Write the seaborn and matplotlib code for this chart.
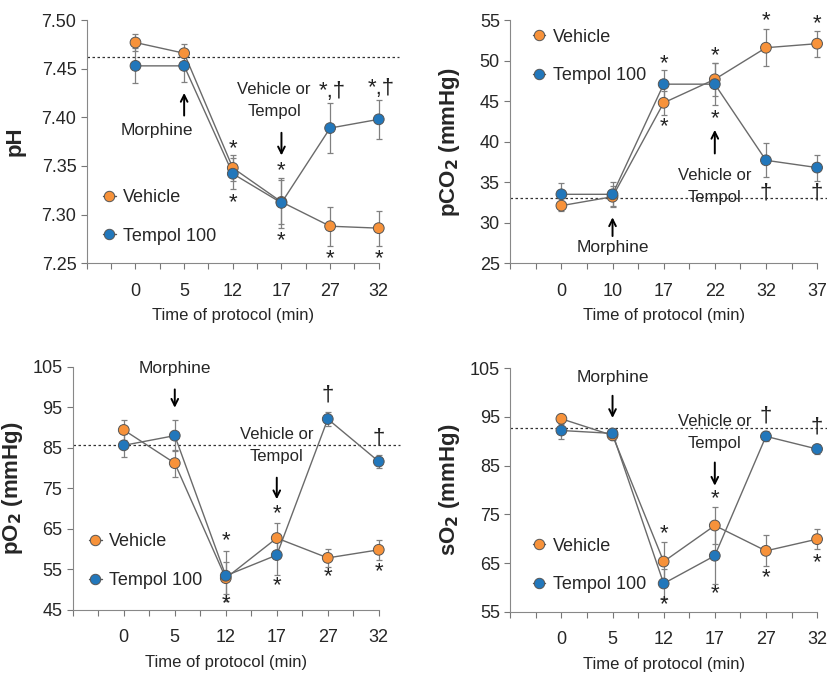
import matplotlib.pyplot as plt
import numpy as np
import pandas as pd
import seaborn as sns
from matplotlib.lines import Line2D

sns.set_style('white')
plt.rcParams['font.family'] = ['Liberation Sans Narrow', 'Liberation Sans', 'DejaVu Sans']

groups = ['Vehicle', 'Tempol 100']
colors = {'Vehicle': '#F7923A', 'Tempol 100': '#2277BB'}

# pH
ph_times = ['0', '5', '12', '17', '27', '32']
ph_vehicle = [7.477, 7.466, 7.348, 7.313, 7.288, 7.286]
ph_vehicle_err = [0.009, 0.010, 0.013, 0.023, 0.020, 0.018]
ph_tempol = [7.453, 7.453, 7.342, 7.312, 7.389, 7.398]
ph_tempol_err = [0.018, 0.017, 0.016, 0.026, 0.026, 0.020]
ph_baseline = 7.462

# pCO2
pco2_times = ['0', '10', '17', '22', '32', '37']
pco2_vehicle = [32.1, 33.2, 44.8, 47.7, 51.6, 52.1]
pco2_vehicle_err = [0.6, 1.3, 1.5, 2.0, 2.3, 1.6]
pco2_tempol = [33.5, 33.5, 47.1, 47.1, 37.7, 36.8]
pco2_tempol_err = [1.4, 1.5, 1.8, 2.6, 2.1, 1.6]
pco2_baseline = 33.1

# pO2
po2_times = ['0', '5', '12', '17', '27', '32']
po2_vehicle = [89.4, 81.2, 52.8, 62.7, 57.8, 59.8]
po2_vehicle_err = [2.5, 3.3, 3.9, 3.7, 2.3, 2.5]
po2_tempol = [85.6, 88.0, 53.4, 58.5, 92.1, 81.6]
po2_tempol_err = [2.8, 3.9, 6.2, 4.8, 1.8, 1.5]
po2_baseline = 85.6

# sO2
so2_times = ['0', '5', '12', '17', '27', '32']
so2_vehicle = [94.6, 91.2, 65.3, 72.7, 67.5, 69.9]
so2_vehicle_err = [1.0, 1.0, 4.1, 3.8, 3.2, 2.1]
so2_tempol = [92.2, 91.6, 60.8, 66.5, 91.0, 88.4]
so2_tempol_err = [1.8, 1.0, 3.0, 5.9, 1.0, 1.0]
so2_baseline = 92.7


def panel(ax, times, veh, veh_err, tem, tem_err, baseline, ylim, yticks, ylabel, leg_anchor, label_x):
    pos = np.arange(1, len(times) + 1)
    df = pd.DataFrame({'pos': np.tile(pos, 2),
                       'value': veh + tem,
                       'err': veh_err + tem_err,
                       'group': np.repeat(groups, len(times))})
    ax.axhline(baseline, xmin=0, xmax=1.07, color='#333333', ls=(0, (2, 2)), lw=0.9,
               clip_on=False, zorder=1)
    for g, d in df.groupby('group'):
        ax.errorbar(d['pos'], d['value'], yerr=d['err'], fmt='none', ecolor='#808080',
                    elinewidth=0.9, capsize=2, capthick=0.9, zorder=2, clip_on=False)
    sns.lineplot(data=df, x='pos', y='value', units='group', estimator=None, color='#6a6a6a',
                 lw=1, ax=ax, zorder=3)
    sns.scatterplot(data=df, x='pos', y='value', hue='group', palette=colors, s=60,
                    edgecolor='#555555', linewidth=0.7, ax=ax, zorder=4, legend=False, clip_on=False)

    ax.set_xlim(0, len(times))
    ax.set_ylim(*ylim)
    ax.set_yticks(yticks)
    ax.set_xticks(pos)
    ax.set_xticklabels(times)
    ax.set_xticks(np.arange(0, len(times) + 0.1, 0.5), minor=True)
    ax.tick_params(axis='both', which='both', direction='out', length=4, width=0.8,
                   color='#777777', labelsize=13, left=True, bottom=True)
    ax.tick_params(axis='x', pad=10)
    for s in ['top', 'right']:
        ax.spines[s].set_visible(False)
    for s in ['left', 'bottom']:
        ax.spines[s].set_color('#888888')
    ax.set_xlabel('Time of protocol (min)', fontsize=12, labelpad=6)
    ax.set_ylabel(ylabel, fontsize=16, fontweight='bold', family=['Liberation Sans', 'DejaVu Sans'])
    ax.yaxis.set_label_coords(label_x, 0.5)

    handles = [Line2D([0], [0], color='#555555', lw=1, marker='o', markersize=7.5,
                      markerfacecolor=colors[g], markeredgecolor='#555555', markeredgewidth=0.7)
               for g in groups]
    ax.legend(handles, groups, loc='center left', bbox_to_anchor=leg_anchor, frameon=False,
              fontsize=13, handlelength=0.7, handletextpad=0.4, labelspacing=1.2)


def arrow(ax, x, y_tail, y_head):
    ax.annotate('', xy=(x, y_head), xytext=(x, y_tail),
                arrowprops=dict(arrowstyle='->', lw=1.4, color='black', mutation_scale=12))


def marks(ax, items, size=16):
    for x, y, t in items:
        ax.text(x, y, t, ha='center', va='center', fontsize=size, color='#222222')


fig, axes = plt.subplots(2, 2, figsize=(8.27, 6.73), dpi=100)
ax1, ax2, ax3, ax4 = axes.ravel()
ax1.set_position([0.105, 0.609, 0.353, 0.361])
ax2.set_position([0.617, 0.609, 0.371, 0.361])
ax3.set_position([0.088, 0.094, 0.370, 0.361])
ax4.set_position([0.617, 0.091, 0.371, 0.362])

panel(ax1, ph_times, ph_vehicle, ph_vehicle_err, ph_tempol, ph_tempol_err, ph_baseline,
      (7.25, 7.50), np.arange(7.25, 7.51, 0.05), 'pH', (0.0, 0.19), -0.21)
ax1.set_yticklabels(['%.2f' % v for v in np.arange(7.25, 7.51, 0.05)])
ax1.text(1.44, 7.387, 'Morphine', ha='center', va='center', fontsize=12.5)
arrow(ax1, 2, 7.399, 7.428)
ax1.text(3.85, 7.417, 'Vehicle or\nTempol', ha='center', va='center', fontsize=12, linespacing=1.6)
arrow(ax1, 4, 7.387, 7.358)
marks(ax1, [(3, 7.368, '*'), (3, 7.312, '*'), (4, 7.345, '*'), (4, 7.273, '*'),
            (5, 7.255, '*'), (6, 7.255, '*'), (5.05, 7.427, '*,†'), (6.05, 7.430, '*,†')])

panel(ax2, pco2_times, pco2_vehicle, pco2_vehicle_err, pco2_tempol, pco2_tempol_err, pco2_baseline,
      (25, 55), np.arange(25, 56, 5), 'pCO$_\\mathbf{2}$ (mmHg)', (0.02, 0.85), -0.156)
arrow(ax2, 2, 28.0, 31.0)
ax2.text(2, 26.9, 'Morphine', ha='center', va='center', fontsize=12.5)
arrow(ax2, 4, 38.2, 41.8)
ax2.text(4, 34.5, 'Vehicle or\nTempol', ha='center', va='center', fontsize=12, linespacing=1.6)
marks(ax2, [(3, 49.6, '*'), (3, 41.9, '*'), (4, 50.6, '*'), (4, 42.8, '*'),
            (5, 54.9, '*'), (6, 54.6, '*'), (5, 33.7, '†'), (6, 33.6, '†')])

panel(ax3, po2_times, po2_vehicle, po2_vehicle_err, po2_tempol, po2_tempol_err, po2_baseline,
      (45, 105), np.arange(45, 106, 10), 'pO$_\\mathbf{2}$ (mmHg)', (0.0, 0.20), -0.157)
ax3.text(2, 104.6, 'Morphine', ha='center', va='center', fontsize=12.5)
arrow(ax3, 2, 100.1, 94.2)
ax3.text(4, 85.6, 'Vehicle or\nTempol', ha='center', va='center', fontsize=12, linespacing=1.6)
arrow(ax3, 4, 78.3, 71.6)
marks(ax3, [(3, 62.1, '*'), (3, 46.4, '*'), (4, 68.7, '*'), (4, 51.0, '*'),
            (5, 53.1, '*'), (6, 54.3, '*'), (5, 98.0, '†'), (6, 87.3, '†')])

panel(ax4, so2_times, so2_vehicle, so2_vehicle_err, so2_tempol, so2_tempol_err, so2_baseline,
      (55, 105), np.arange(55, 106, 10), 'sO$_\\mathbf{2}$ (mmHg)', (0.02, 0.19), -0.156)
ax4.text(2, 103.0, 'Morphine', ha='center', va='center', fontsize=12.5)
arrow(ax4, 2, 99.9, 94.2)
ax4.text(4, 91.8, 'Vehicle or\nTempol', ha='center', va='center', fontsize=12, linespacing=1.6)
arrow(ax4, 4, 86.2, 80.3)
marks(ax4, [(3, 71.1, '*'), (3, 56.4, '*'), (4, 78.3, '*'), (4, 58.8, '*'),
            (5, 61.9, '*'), (6, 65.1, '*'), (5, 95.2, '†'), (6, 92.9, '†')])

fig.savefig('out.png', dpi=100)
